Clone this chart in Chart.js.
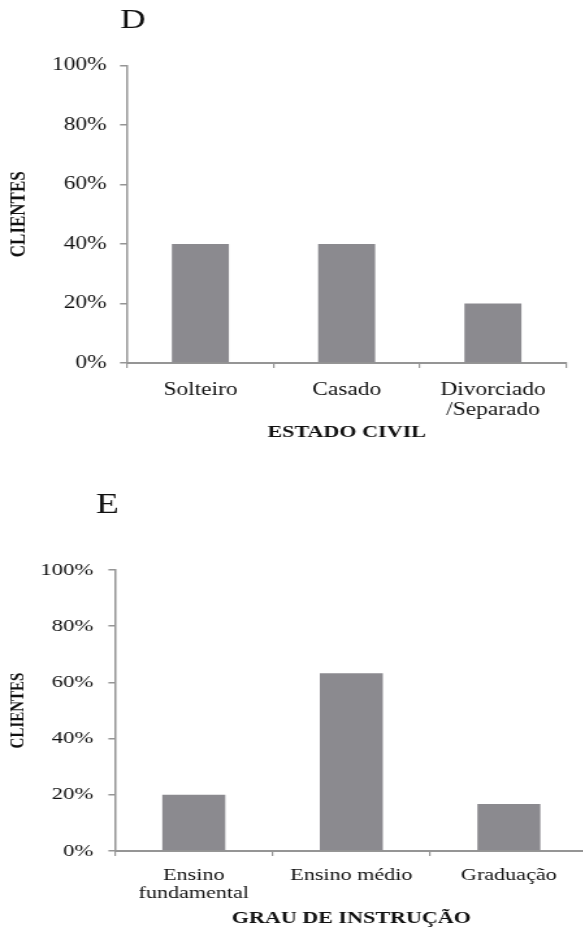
<!DOCTYPE html>
<html lang="pt">
<head>
<meta charset="utf-8">
<title>Clientes por estado civil e grau de instrução</title>
<script src="https://cdn.jsdelivr.net/npm/chart.js@4/dist/chart.umd.min.js"></script>
<style>
  html, body { margin: 0; padding: 0; background: #fff; overflow: hidden; }
  .page { width: 583px; height: 929px; position: relative; overflow: hidden; }
  /* the figure is set in a wide aspect: panels are stretched horizontally */
  .panel { transform: scaleX(1.3); transform-origin: 0 0; }
  canvas { display: block; }
</style>
</head>
<body>
<div class="page">
  <div class="panel"><canvas id="chartD" width="449" height="465"></canvas></div>
  <div class="panel"><canvas id="chartE" width="452" height="464"></canvas></div>
</div>
<script>
// Panel D: estado civil
const estadoCivilLabels = ['Solteiro', 'Casado', ['Divorciado', '/Separado']];
const estadoCivilValues = [40, 40, 20];

// Panel E: grau de instrução
const instrucaoLabels = [['Ensino', 'fundamental'], 'Ensino médio', 'Graduação'];
const instrucaoValues = [20, 63.3, 16.7];

// Shared y-axis tick labels
const percentTicks = ['0%', '20%', '40%', '60%', '80%', '100%'];

const SERIF = "'Liberation Serif', 'Times New Roman', serif";
const BAR_COLOR = '#8b8a8f';
const AXIS_COLOR = '#959595';
const TEXT_COLOR = '#111111';

// Draws the panel letter (D, E) above the plot
const panelLetter = {
  id: 'panelLetter',
  afterDraw(chart, args, opts) {
    const ctx = chart.ctx;
    ctx.save();
    ctx.font = `${opts.size}px ${SERIF}`;
    ctx.fillStyle = TEXT_COLOR;
    ctx.textAlign = 'center';
    ctx.textBaseline = 'middle';
    ctx.fillText(opts.text, opts.x, opts.y);
    ctx.restore();
  }
};

function barChart(id, labels, values, cfg) {
  return new Chart(document.getElementById(id), {
    type: 'bar',
    data: {
      labels: labels,
      datasets: [{
        data: values,
        backgroundColor: BAR_COLOR,
        borderWidth: 0,
        categoryPercentage: 1,
        barPercentage: cfg.barPct
      }]
    },
    options: {
      responsive: false,
      animation: false,
      events: [],
      layout: { padding: { top: cfg.top, right: cfg.right, bottom: 0, left: 0 } },
      plugins: {
        legend: { display: false },
        tooltip: { enabled: false },
        title: { display: false },
        panelLetter: cfg.letter
      },
      scales: {
        x: {
          grid: {
            display: true, drawOnChartArea: false, drawTicks: true,
            tickLength: 5, color: AXIS_COLOR, lineWidth: 1.2, offset: true
          },
          border: { display: true, color: AXIS_COLOR, width: 2 },
          ticks: {
            color: TEXT_COLOR,
            font: { family: SERIF, size: cfg.catSize, lineHeight: cfg.catLH },
            padding: cfg.catPad, maxRotation: 0, minRotation: 0, autoSkip: false
          },
          title: {
            display: true, text: cfg.xTitle, color: TEXT_COLOR,
            font: { family: SERIF, size: 17, weight: 'bold', lineHeight: 1.2 },
            padding: { top: 0, bottom: cfg.xTitlePad }
          },
          afterFit(scale) { scale.height = cfg.xHeight; }
        },
        y: {
          min: 0, max: 100,
          ticks: {
            stepSize: 20, color: TEXT_COLOR,
            font: { family: SERIF, size: cfg.tickSize },
            padding: cfg.tickPad,
            callback: (v, i) => percentTicks[i]
          },
          grid: {
            display: true, drawOnChartArea: false, drawTicks: true,
            tickLength: cfg.yTickLen, color: AXIS_COLOR, lineWidth: 1.5
          },
          border: { display: true, color: AXIS_COLOR, width: 1.5 },
          title: {
            display: true, text: 'CLIENTES', color: TEXT_COLOR,
            font: { family: SERIF, size: cfg.yTitleSize, weight: 'bold', lineHeight: 1.2 },
            padding: { top: cfg.yTitlePad, bottom: 0 }
          },
          afterFit(scale) { scale.width = cfg.yWidth; }
        }
      }
    },
    plugins: [panelLetter]
  });
}

barChart('chartD', estadoCivilLabels, estadoCivilValues, {
  letter: { text: 'D', x: 102.3, y: 21, size: 27 },
  top: 65.5, right: 13.6, barPct: 0.39,
  yWidth: 97.9, yTickLen: 5.6, tickPad: 10.4, tickSize: 18,
  yTitleSize: 17, yTitlePad: 4.4,
  catSize: 18, catLH: 1.11, catPad: 12,
  xTitle: 'ESTADO CIVIL', xTitlePad: 22.3, xHeight: 102
});

barChart('chartE', instrucaoLabels, instrucaoValues, {
  letter: { text: 'E', x: 82.7, y: 40, size: 29 },
  top: 105, right: 0, barPct: 0.4,
  yWidth: 88.5, yTickLen: 5.1, tickPad: 11.6, tickSize: 17.5,
  yTitleSize: 15, yTitlePad: 5.1,
  catSize: 17, catLH: 1.02, catPad: 11.3,
  xTitle: 'GRAU DE INSTRUÇÃO', xTitlePad: 0, xHeight: 78
});
</script>
</body>
</html>
